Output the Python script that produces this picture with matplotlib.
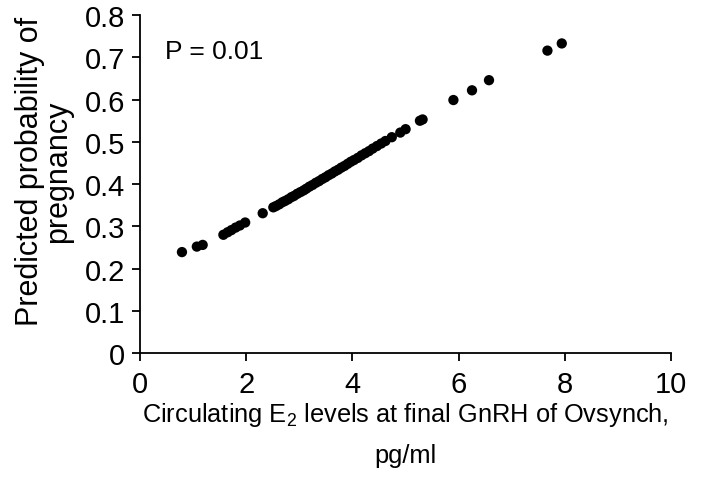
import matplotlib
matplotlib.use('Agg')
import matplotlib.pyplot as plt
from matplotlib import font_manager

plt.rcParams['font.family'] = ['Liberation Sans', 'DejaVu Sans']
plt.rcParams['mathtext.fontset'] = 'custom'
plt.rcParams['mathtext.rm'] = 'Liberation Sans'
plt.rcParams['mathtext.it'] = 'Liberation Sans'

# E2 level (pg/ml) and predicted probability
e2_levels = [0.79, 1.07, 1.18, 1.57, 1.65, 1.72, 1.80, 1.88, 1.98, 2.31,
             2.51, 2.56, 2.62, 2.68, 2.73, 2.79, 2.85, 2.90, 2.96, 3.02,
             3.08, 3.13, 3.19, 3.25, 3.31, 3.37, 3.43, 3.49, 3.55, 3.61,
             3.67, 3.73, 3.79, 3.85, 3.91, 3.97, 4.03, 4.10, 4.17, 4.24,
             4.31, 4.38, 4.46, 4.54, 4.62, 4.74, 4.90, 5.00, 5.27, 5.32,
             5.90, 6.25, 6.57, 7.67, 7.94]
prob = [0.239, 0.252, 0.256, 0.280, 0.286, 0.291, 0.297, 0.302, 0.309, 0.331,
        0.345, 0.348, 0.352, 0.357, 0.360, 0.364, 0.369, 0.372, 0.377, 0.381,
        0.385, 0.389, 0.394, 0.398, 0.403, 0.407, 0.412, 0.416, 0.421, 0.425,
        0.430, 0.434, 0.439, 0.443, 0.448, 0.453, 0.457, 0.462, 0.468, 0.473,
        0.478, 0.484, 0.490, 0.496, 0.502, 0.511, 0.522, 0.530, 0.550, 0.553,
        0.599, 0.622, 0.646, 0.716, 0.733]

xticks = [0, 2, 4, 6, 8, 10]
yticks = [0, 0.1, 0.2, 0.3, 0.4, 0.5, 0.6, 0.7, 0.8]
ytick_labels = ['0', '0.1', '0.2', '0.3', '0.4', '0.5', '0.6', '0.7', '0.8']

# narrow face for the x label if it is there
names = {f.name for f in font_manager.fontManager.ttflist}
if 'Liberation Sans Narrow' in names:
    xlab_family, xlab_size = 'Liberation Sans Narrow', 22
else:
    xlab_family, xlab_size = 'Liberation Sans', 18.3

fig = plt.figure(figsize=(7.01, 4.89), dpi=100)
ax = fig.add_axes([0.1997, 0.276, 0.7578, 0.691])

ax.scatter(e2_levels, prob, s=55, color='black', edgecolors='none', zorder=3)

ax.set_xlim(0, 10)
ax.set_ylim(0, 0.8)
ax.set_xticks(xticks)
ax.set_xticklabels([str(v) for v in xticks])
ax.set_yticks(yticks)
ax.set_yticklabels(ytick_labels)

for side in ['top', 'right']:
    ax.spines[side].set_visible(False)
for side in ['left', 'bottom']:
    ax.spines[side].set_linewidth(1.3)
    ax.spines[side].set_color('black')

ax.tick_params(direction='out', length=5.5, width=1.3, labelsize=21, pad=5)
ax.tick_params(axis='x', pad=7)

ax.text(0.47, 0.715, 'P = 0.01', fontsize=19, va='center', ha='left')

ax.set_xlabel('Circulating E$_2$ levels at final GnRH of Ovsynch,\npg/ml',
              fontsize=xlab_size, family=xlab_family, linespacing=1.75)
ax.xaxis.set_label_coords(0.5, -0.14)
ax.set_ylabel('Predicted probability of\npregnancy', fontsize=22,
              linespacing=0.95)
ax.yaxis.set_label_coords(-0.125, 0.54)

fig.savefig('out.png', dpi=100)
